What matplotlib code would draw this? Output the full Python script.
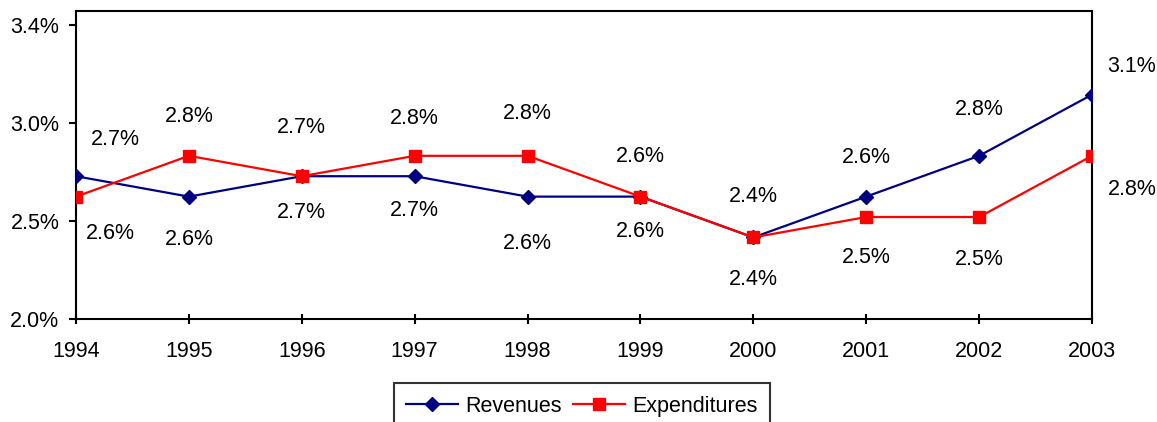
import matplotlib
matplotlib.use('Agg')
import matplotlib.pyplot as plt

plt.rcParams['font.family'] = ['Liberation Sans', 'DejaVu Sans']

# data
years = [1994, 1995, 1996, 1997, 1998, 1999, 2000, 2001, 2002, 2003]
revenues = [2.7, 2.6, 2.7, 2.7, 2.6, 2.6, 2.4, 2.6, 2.8, 3.1]
expenditures = [2.6, 2.8, 2.7, 2.8, 2.8, 2.6, 2.4, 2.5, 2.5, 2.8]
y_ticks = [2.0, 2.48, 2.96, 3.44]

# label placement (pixel offsets from each point)
rev_off = [(39, 37), (0, -43), (0, -36), (0, -34), (0, -47),
           (0, -35), (0, 41), (0, 39), (0, 46), (40, 28)]
exp_off = [(34, -37), (0, 39), (0, 49), (0, 37), (0, 42),
           (0, 40), (0, -42), (0, -40), (0, -42), (40, -34)]

fig = plt.figure(figsize=(11.57, 4.22), dpi=100)
ax = fig.add_axes([76 / 1157, 1 - 319 / 422, (1092 - 76) / 1157, (319 - 11) / 422])

ax.plot(years, revenues, color='#000080', lw=1.6, marker='D', ms=7,
        label='Revenues', zorder=3)
ax.plot(years, expenditures, color='#FF0000', lw=1.6, marker='s', ms=8,
        mfc='#FF0000', mec='#FF0000', label='Expenditures', zorder=3)

for x, y, off in zip(years, revenues, rev_off):
    ax.annotate(f'{y:.1f}%', (x, y), xytext=off, textcoords='offset pixels',
                ha='center', va='center', fontsize=15.5, annotation_clip=False)
for x, y, off in zip(years, expenditures, exp_off):
    ax.annotate(f'{y:.1f}%', (x, y), xytext=off, textcoords='offset pixels',
                ha='center', va='center', fontsize=15.5, annotation_clip=False)

ax.set_xlim(1994, 2003)
ax.set_ylim(2.0, 3.51)
ax.set_xticks(years)
ax.set_yticks(y_ticks)
ax.set_yticklabels([f'{v:.1f}%' for v in y_ticks])
ax.tick_params(axis='x', direction='inout', length=7, width=1.5, pad=12, labelsize=15.5)
ax.tick_params(axis='y', direction='out', length=5, width=1.5, pad=7, labelsize=15.5)
for s in ax.spines.values():
    s.set_linewidth(1.5)

leg = fig.legend(loc='upper center', bbox_to_anchor=(582 / 1157, 1 - 383 / 422),
                 ncol=2, fontsize=15.5, frameon=True, fancybox=False,
                 handlelength=2.4, columnspacing=0.5, handletextpad=0.35,
                 borderpad=0.6, borderaxespad=0)
leg.get_frame().set_edgecolor('black')
leg.get_frame().set_linewidth(1.5)

plt.savefig('out.png', dpi=100)
